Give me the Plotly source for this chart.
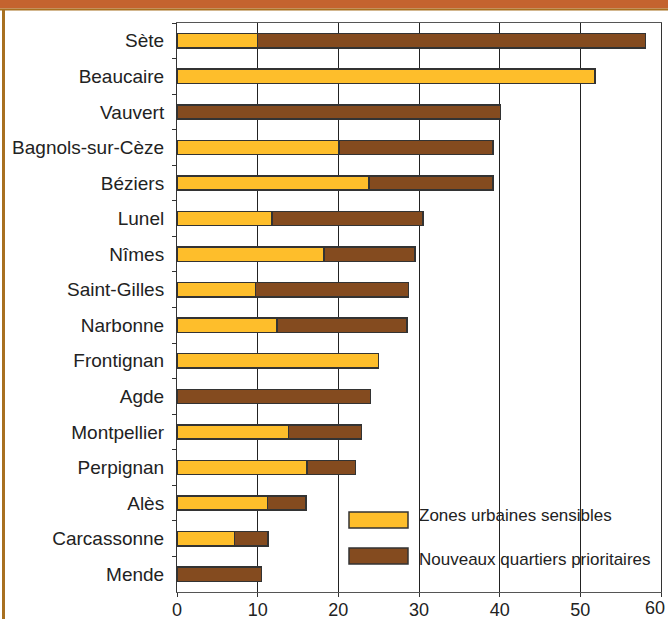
import plotly.graph_objects as go

cities = ["Sète", "Beaucaire", "Vauvert", "Bagnols-sur-Cèze", "Béziers", "Lunel",
          "Nîmes", "Saint-Gilles", "Narbonne", "Frontignan", "Agde", "Montpellier",
          "Perpignan", "Alès", "Carcassonne", "Mende"]
zus = [10.0, 51.8, None, 20.1, 23.8, 11.8, 18.2, 9.7, 12.4, 25.0, None, 13.8, 16.1, 11.2, 7.1, None]
nqp = [48.1, None, 40.1, 19.1, 15.4, 18.7, 11.3, 19.0, 16.1, None, 24.0, 9.1, 6.0, 4.8, 4.2, 10.5]
x_ticks = [0, 10, 20, 30, 40, 50, 60]
legend_names = ["Zones urbaines sensibles", "Nouveaux quartiers prioritaires"]

W, H = 668, 619
L, R, T, B = 177, 661, 23, 592
YELLOW = "#FEBE2B"
BROWN = "#844B1F"
EDGE = "#333333"
TXT = "#222222"
FONT = "Liberation Sans, Arial, sans-serif"


def px(x):
    return (x - L) / (R - L)


def py(y):
    return (B - y) / (B - T)


fig = go.Figure()
fig.add_bar(y=cities, x=zus, orientation="h", name=legend_names[0],
            marker=dict(color=YELLOW, line=dict(color=EDGE, width=1.5)), showlegend=False)
fig.add_bar(y=cities, x=nqp, orientation="h", name=legend_names[1],
            marker=dict(color=BROWN, line=dict(color=EDGE, width=1.5)), showlegend=False)

shapes = [
    dict(type="rect", xref="paper", yref="paper", x0=px(0), x1=px(W), y0=py(0), y1=py(8.5),
         fillcolor="#C4632F", line=dict(width=0), layer="below"),
    dict(type="rect", xref="paper", yref="paper", x0=px(0), x1=px(W), y0=py(8.5), y1=py(10.5),
         fillcolor="#A87020", line=dict(width=0), layer="below"),
    dict(type="rect", xref="paper", yref="paper", x0=px(2), x1=px(5), y0=py(10), y1=py(H),
         fillcolor="#A87020", line=dict(width=0), layer="below"),
]
annotations = []
text_y = [515.5, 559.5]
for i, (name, col) in enumerate(zip(legend_names, [YELLOW, BROWN])):
    top = 512 + i * 36
    shapes.append(dict(type="rect", xref="paper", yref="paper", x0=px(349), x1=px(408),
                       y0=py(top), y1=py(top + 16), fillcolor=col,
                       line=dict(color=EDGE, width=1.5)))
    annotations.append(dict(xref="paper", yref="paper", x=px(417), y=py(text_y[i]),
                            text=name, showarrow=False, xanchor="left", yanchor="middle",
                            font=dict(family=FONT, size=17, color=TXT)))

# last tick label is placed flush with the right edge so it stays fully visible
tick_text = [str(v) for v in x_ticks]
annotations.append(dict(xref="paper", yref="paper", x=px(667), y=py(608),
                        text=tick_text[-1], showarrow=False, xanchor="right", yanchor="middle",
                        font=dict(family=FONT, size=18, color=TXT)))
tick_text[-1] = ""

fig.update_layout(
    width=W, height=H,
    margin=dict(l=L, r=W - R, t=T, b=H - B, pad=0, autoexpand=False),
    paper_bgcolor="white", plot_bgcolor="white",
    barmode="stack", bargap=0.6,
    shapes=shapes, annotations=annotations,
    font=dict(family=FONT, size=18, color=TXT),
    xaxis=dict(range=[0, 60], tickvals=x_ticks, ticktext=tick_text, showgrid=True,
               gridcolor="#222222", gridwidth=1,
               zeroline=False, showline=True, linecolor="#555555", linewidth=1.2, mirror=True,
               ticks="outside", ticklen=4, tickcolor="#333333",
               ticklabelstandoff=-3, automargin=False,
               tickfont=dict(family=FONT, size=18, color=TXT), fixedrange=True),
    yaxis=dict(autorange="reversed", showgrid=False, zeroline=False, showline=True,
               linecolor="#333333", linewidth=1, mirror=True, ticks="outside", ticklen=4,
               tickcolor="#333333", tickson="boundaries", ticklabelstandoff=8, automargin=False,
               tickfont=dict(family=FONT, size=19, color=TXT), fixedrange=True),
)

fig.write_html("out.html")
